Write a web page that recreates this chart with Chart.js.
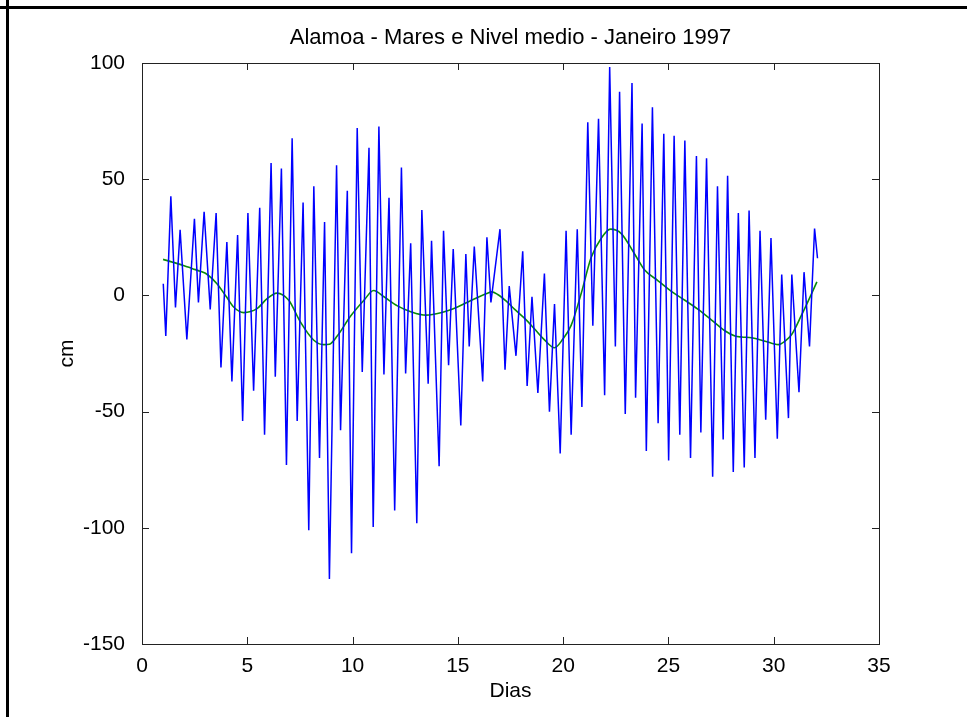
<!DOCTYPE html>
<html>
<head>
<meta charset="utf-8">
<script src="https://cdn.jsdelivr.net/npm/chart.js@4.4.1/dist/chart.umd.min.js"></script>
<style>
  body { margin: 0; background: #fff; }
  #wrap { position: relative; width: 967px; height: 717px; }
  .rule { position: absolute; background: #000; }
</style>
</head>
<body>
<div id="wrap">
  <canvas id="graf" width="967" height="717"></canvas>
  <div class="rule" style="left:0;top:6px;width:967px;height:3px"></div>
  <div class="rule" style="left:6px;top:0;width:3px;height:717px"></div>
</div>
<script>
// mares (cm) - pontos de preamar / baixamar
const tideDays = [1.01, 1.13, 1.37, 1.59, 1.81, 2.13, 2.49, 2.68, 2.95, 3.24, 3.52, 3.75, 4.03, 4.27, 4.54, 4.78,
  5.03, 5.30, 5.59, 5.82, 6.13, 6.33, 6.62, 6.86, 7.13, 7.37, 7.65, 7.92, 8.16, 8.43, 8.67, 8.90,
  9.24, 9.43, 9.75, 9.95, 10.22, 10.46, 10.78, 10.98, 11.25, 11.49, 11.73, 12.00, 12.32, 12.52, 12.76, 13.05,
  13.29, 13.59, 13.75, 14.11, 14.32, 14.56, 14.78, 15.14, 15.38, 15.54, 15.78, 16.18, 16.38, 16.57, 17.00, 17.24,
  17.44, 17.76, 18.08, 18.29, 18.52, 18.80, 19.11, 19.35, 19.59, 19.86, 20.14, 20.38, 20.67, 20.89, 21.17, 21.41,
  21.68, 21.97, 22.21, 22.48, 22.68, 22.95, 23.27, 23.44, 23.75, 23.95, 24.24, 24.51, 24.78, 25.01, 25.27, 25.54,
  25.78, 26.05, 26.33, 26.54, 26.81, 27.10, 27.33, 27.60, 27.81, 28.08, 28.32, 28.60, 28.83, 29.11, 29.35, 29.62,
  29.87, 30.17, 30.38, 30.70, 30.86, 31.20, 31.44, 31.70, 31.94, 32.08];
const tideCm = [5, -17.5, 42.6, -5.2, 28.2, -19, 33, -3, 36, -6, 35.4, -31, 23, -37, 26, -54,
  35.4, -41, 37.7, -60, 57, -35, 54.6, -73, 67.6, -54, 40, -101, 47, -70, 31.6, -122,
  56, -58, 45, -111, 72, -33, 63.5, -99.6, 72.7, -34, 42, -92.6, 55, -33.6, 22.4, -98,
  36.7, -38, 23.5, -73.5, 27.8, -30, 20, -56, 17.8, -22, 21, -37, 25, -3, 28.5, -32,
  4, -26, 19, -39, -0.6, -42, 9.4, -50, -3.7, -68, 27.8, -60, 28.5, -48, 74.5, -13,
  76, -43, 98.3, -22, 87.6, -51, 91.4, -44, 74, -67, 81, -55, 69.6, -71, 68.7, -60,
  66.6, -70, 60, -59, 59, -78, 47, -62, 51.5, -76, 35.4, -74, 36.5, -70, 27.8, -53.5,
  24.7, -61.7, 9, -52.8, 9, -41.7, 10, -22, 28.8, 16];

// nivel medio (cm)
const meanDays = [1.0, 1.5, 2.0, 2.4, 2.76, 3.1, 3.56, 4.0, 4.35, 4.83, 5.46, 5.94, 6.41, 6.97, 7.52, 8.16,
  8.63, 8.9, 9.27, 9.9, 10.54, 11.0, 11.49, 12.13, 12.76, 13.48, 14.19, 14.98, 15.62, 16.41, 16.6, 16.89,
  17.3, 17.7, 18.16, 18.6, 19.1, 19.59, 19.98, 20.38, 20.86, 21.33, 21.81, 22.25, 22.76, 23.4, 23.87, 24.51,
  25.14, 25.78, 26.41, 27.05, 27.68, 28.16, 28.48, 28.95, 29.59, 30.22, 30.54, 30.86, 31.33, 31.73, 32.05];
const meanCm = [15.5, 14.2, 12.8, 11.5, 10.4, 9, 5, -0.5, -5, -7.4, -5.7, -1.4, 1, -2.1, -11.4, -19.3,
  -21.2, -21, -17.5, -9, -2.1, 2.1, -0.6, -4.5, -7, -8.5, -7.5, -5, -2.2, 0.9, 1.5, 0.4,
  -2.5, -6, -9.8, -14, -19, -22.5, -18.9, -12.9, 0.9, 16.3, 24.6, 28.5, 26.6, 17.7, 10.9, 6.3,
  1.7, -2.1, -6, -10.6, -15.2, -17.5, -17.9, -18.2, -19.7, -21.2, -19.7, -16.7, -8.3, -0.6, 5.8];

const xTicks = [0, 5, 10, 15, 20, 25, 30, 35];
const yTicks = [-150, -100, -50, 0, 50, 100];

const fonte = "'Liberation Sans', Arial, Helvetica, sans-serif";

const tidePts = tideDays.map((d, i) => ({x: d, y: tideCm[i]}));
const meanPts = meanDays.map((d, i) => ({x: d, y: meanCm[i]}));

// caixa e tracos internos estilo matlab
const caixa = {
  id: 'caixa',
  afterDraw(chart) {
    const {ctx, chartArea: a, scales: {x, y}} = chart;
    ctx.save();
    ctx.strokeStyle = '#222';
    ctx.lineWidth = 1;
    ctx.beginPath();
    xTicks.forEach(v => {
      const px = Math.round(x.getPixelForValue(v)) + 0.5;
      ctx.moveTo(px, a.bottom); ctx.lineTo(px, a.bottom - 7);
      ctx.moveTo(px, a.top); ctx.lineTo(px, a.top + 7);
    });
    yTicks.forEach(v => {
      const py = Math.round(y.getPixelForValue(v)) + 0.5;
      ctx.moveTo(a.left, py); ctx.lineTo(a.left + 7, py);
      ctx.moveTo(a.right, py); ctx.lineTo(a.right - 7, py);
    });
    ctx.stroke();
    ctx.strokeRect(Math.round(a.left) + 0.5, Math.round(a.top) + 0.5,
      Math.round(a.right - a.left), Math.round(a.bottom - a.top));
    ctx.restore();
  }
};

new Chart(document.getElementById('graf'), {
  type: 'line',
  data: {
    datasets: [{
      label: 'Mares',
      data: tidePts,
      borderColor: '#0000ff',
      borderWidth: 1.5,
      pointRadius: 0,
      tension: 0
    }, {
      label: 'Nivel medio',
      data: meanPts,
      borderColor: '#0b8a0b',
      borderWidth: 1.6,
      pointRadius: 0,
      cubicInterpolationMode: 'monotone'
    }]
  },
  options: {
    responsive: false,
    animation: false,
    devicePixelRatio: 1,
    events: [],
    layout: { padding: { left: 0, right: 88, top: 0, bottom: 0 } },
    plugins: {
      legend: { display: false },
      tooltip: { enabled: false },
      title: {
        display: true,
        fullSize: false,
        text: 'Alamoa - Mares e Nivel medio - Janeiro 1997',
        color: '#000',
        font: { family: fonte, size: 22, weight: 'normal' },
        padding: { top: 25, bottom: 11.6 }
      }
    },
    scales: {
      x: {
        type: 'linear',
        min: 0,
        max: 35,
        afterBuildTicks: s => { s.ticks = xTicks.map(v => ({value: v})); },
        afterFit: s => { s.height = 73; },
        grid: { display: false },
        border: { display: false },
        ticks: { color: '#000', padding: 2, font: { family: fonte, size: 21 } },
        title: {
          display: true, text: 'Dias', color: '#000',
          font: { family: fonte, size: 21 }, padding: { top: 0, bottom: 13 }
        }
      },
      y: {
        min: -150,
        max: 100,
        afterBuildTicks: s => { s.ticks = yTicks.map(v => ({value: v})); },
        afterFit: s => { s.width = 142; },
        grid: { display: false },
        border: { display: false },
        ticks: { color: '#000', padding: 9, font: { family: fonte, size: 21 } },
        title: {
          display: true, text: 'cm', color: '#000',
          font: { family: fonte, size: 21 }, padding: { top: 55, bottom: 0 }
        }
      }
    }
  },
  plugins: [caixa]
});
</script>
</body>
</html>
